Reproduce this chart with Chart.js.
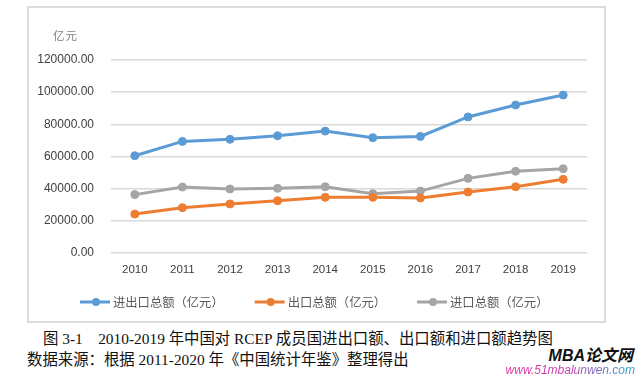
<!DOCTYPE html>
<html>
<head>
<meta charset="utf-8">
<script src="https://cdn.jsdelivr.net/npm/chart.js@4"></script>
<style>
  html, body { margin: 0; padding: 0; background: #fff; }
  body { width: 638px; height: 377px; position: relative; overflow: hidden; }
  #frame { position: absolute; left: 27px; top: 6px; width: 579px; height: 317px; box-sizing: border-box; border: 2px solid #dcdcdc; }
  #wrap { position: absolute; left: 0; top: 0; width: 638px; height: 330px; }
  .unit { position: absolute; left: 53px; top: 27px; font: 11.5px "Noto Sans CJK SC", sans-serif; color: #7f7f7f; letter-spacing: 1px; }
  .cap { position: absolute; white-space: pre; font-family: "Liberation Serif", "Noto Sans CJK SC", serif; font-size: 15.4px; color: #111; line-height: 18px; }
  #cap1 { left: 43px; top: 330px; }
  #cap2 { left: 27px; top: 351px; }
  #wm1 { position: absolute; right: 5px; top: 346px; white-space: nowrap; font: italic bold 16px "Liberation Sans", "Noto Sans CJK SC", sans-serif; color: #111; line-height: 20px; }
  #wm2 { position: absolute; right: 3px; top: 364px; white-space: nowrap; font: italic 12px "Liberation Sans", sans-serif; line-height: 13px;
         background: linear-gradient(90deg, #e0309a, #c040b0 50%, #20a8c8); -webkit-background-clip: text; background-clip: text; color: transparent; }
</style>
</head>
<body>
<div id="frame"></div>
<div id="wrap"><canvas id="c" width="638" height="330"></canvas></div>
<div class="unit">亿元</div>
<div class="cap" id="cap1">图 3-1　2010-2019 年中国对 RCEP 成员国进出口额、出口额和进口额趋势图</div>
<div class="cap" id="cap2">数据来源：根据 2011-2020 年《中国统计年鉴》整理得出</div>
<div id="wm1">MBA论文网</div>
<div id="wm2">www.51mbalunwen.com</div>
<script>
const years = ['2010','2011','2012','2013','2014','2015','2016','2017','2018','2019'];
const totalTrade = [60500, 69400, 70700, 72900, 75800, 71700, 72500, 84600, 92000, 98200];
const exportsVal = [24200, 28200, 30500, 32500, 34600, 34600, 34200, 37900, 41200, 45800];
const importsVal = [36300, 41000, 39800, 40200, 41200, 36900, 38500, 46400, 50800, 52400];
const seriesNames = ['进出口总额（亿元）', '出口总额（亿元）', '进口总额（亿元）'];
const seriesColors = ['#5B9BD5', '#ED7D31', '#A5A5A5'];
const yTicks = [0, 20000, 40000, 60000, 80000, 100000, 120000];

function ds(label, data, color) {
  return { label, data, borderColor: color, backgroundColor: color, borderWidth: 3,
    pointRadius: 4, pointHoverRadius: 4, pointBorderWidth: 1, pointBackgroundColor: color,
    pointBorderColor: color, tension: 0, fill: false };
}

const legendPlugin = {
  id: 'customLegend',
  afterDraw(chart) {
    const ctx = chart.ctx;
    ctx.save();
    ctx.font = '12.3px "Noto Sans CJK SC", sans-serif';
    ctx.textBaseline = 'middle';
    let x = 80;
    const y = 302;
    chart.data.datasets.forEach(d => {
      ctx.strokeStyle = d.borderColor;
      ctx.lineWidth = 3;
      ctx.beginPath(); ctx.moveTo(x, y); ctx.lineTo(x + 30, y); ctx.stroke();
      ctx.fillStyle = d.borderColor;
      ctx.beginPath(); ctx.arc(x + 16, y, 4, 0, Math.PI * 2); ctx.fill();
      ctx.fillStyle = '#595959';
      ctx.fillText(d.label, x + 33, y);
      x += 33 + ctx.measureText(d.label).width + 31;
    });
    ctx.restore();
  }
};

new Chart(document.getElementById('c'), {
  type: 'line',
  data: { labels: years, datasets: [
    ds(seriesNames[0], totalTrade, seriesColors[0]),
    ds(seriesNames[1], exportsVal, seriesColors[1]),
    ds(seriesNames[2], importsVal, seriesColors[2])
  ]},
  options: {
    responsive: false, animation: false, devicePixelRatio: 1,
    layout: { padding: { top: 60, right: 51, left: 0, bottom: 0 } },
    plugins: { legend: { display: false }, tooltip: { enabled: false }, title: { display: false } },
    scales: {
      x: {
        offset: true,
        grid: { display: false, drawTicks: false },
        border: { display: false },
        ticks: { color: '#404040', font: { family: 'Liberation Sans', size: 11.5 }, padding: 10, maxRotation: 0 },
        afterFit(s) { s.height = 77; }
      },
      y: {
        min: 0, max: 120000,
        afterBuildTicks(s) { s.ticks = yTicks.map(v => ({ value: v })); },
        grid: { color: '#d9d9d9', lineWidth: 1.5, drawTicks: false },
        border: { display: false },
        ticks: { color: '#404040', font: { family: 'Liberation Sans', size: 12 }, padding: 17,
                 callback: v => Number(v).toFixed(2) },
        afterFit(s) { s.width = 111; }
      }
    }
  },
  plugins: [legendPlugin]
});
</script>
</body>
</html>
